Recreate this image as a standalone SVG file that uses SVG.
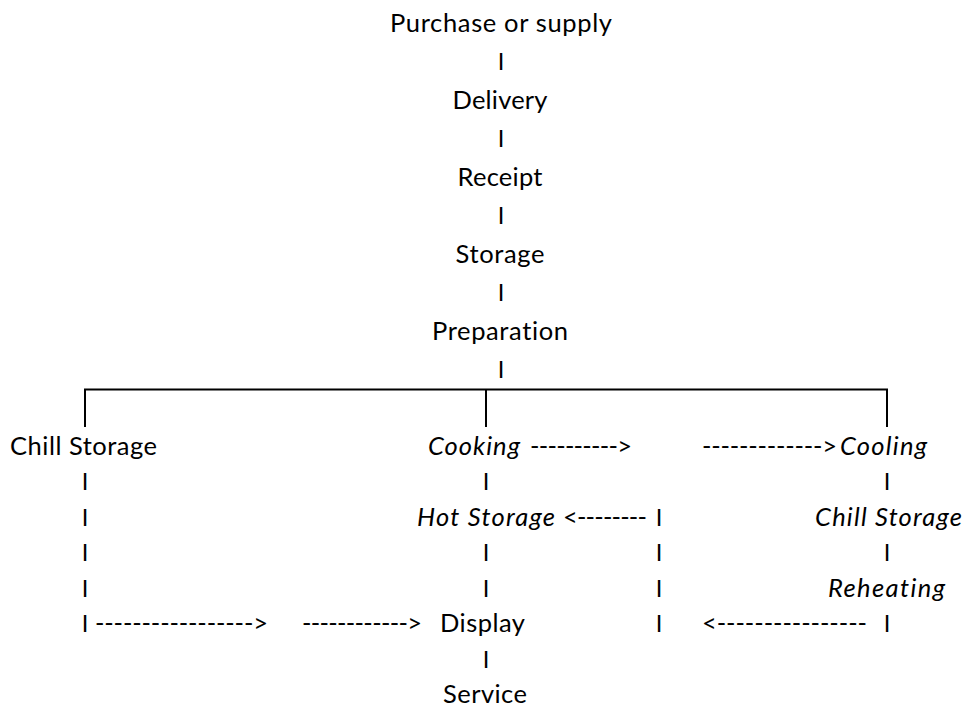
<svg xmlns="http://www.w3.org/2000/svg" width="965" height="709" viewBox="0 0 965 709">
<style>
text{font-family:Lato,"Open Sans","Liberation Sans",sans-serif;font-size:25.5px;fill:#000;font-variant-ligatures:none}
.c{text-anchor:middle}
.i{font-style:italic}
.ln{stroke:#000;stroke-width:2;fill:none}
.b{font-size:23.5px}
</style>
<rect width="965" height="709" fill="#fff"/>
<g id="n-purchase"><text class="c" x="501" y="31.5" textLength="222" lengthAdjust="spacing">Purchase or supply</text></g>
<g id="n-delivery"><text class="c" x="500" y="108.5" textLength="95" lengthAdjust="spacing">Delivery</text></g>
<g id="n-receipt"><text class="c" x="500" y="185.5" textLength="85" lengthAdjust="spacing">Receipt</text></g>
<g id="n-storage"><text class="c" x="500" y="262.5" textLength="89" lengthAdjust="spacing">Storage</text></g>
<g id="n-preparation"><text class="c" x="500" y="339.5" textLength="136" lengthAdjust="spacing">Preparation</text></g>
<g id="n-chill-left"><text x="10" y="454.5" textLength="147" lengthAdjust="spacing">Chill Storage</text></g>
<g id="n-cooking"><text class="i" x="428" y="454.5" textLength="92" lengthAdjust="spacing">Cooking</text></g>
<g id="n-cooling"><text class="i" x="840" y="454.5" textLength="87" lengthAdjust="spacing">Cooling</text></g>
<g id="n-hot-storage"><text class="i" x="417" y="525.5" textLength="138" lengthAdjust="spacing">Hot Storage</text></g>
<g id="n-chill-right"><text class="i" x="815" y="525.5" textLength="147" lengthAdjust="spacing">Chill Storage</text></g>
<g id="n-reheating"><text class="i" x="828" y="596.5" textLength="117" lengthAdjust="spacing">Reheating</text></g>
<g id="n-display"><text x="440" y="632" textLength="85" lengthAdjust="spacing">Display</text></g>
<g id="n-service"><text x="443" y="703" textLength="84" lengthAdjust="spacing">Service</text></g>
<g id="connectors">
<path class="ln" d="M85,427V389.5H887V427M486,389.5V427"/>
<text class="c b" x="501" y="70">I</text>
<text class="c b" x="501" y="147">I</text>
<text class="c b" x="501" y="224">I</text>
<text class="c b" x="501" y="301">I</text>
<text class="c b" x="501" y="378">I</text>
<text class="c b" x="85" y="490">I</text>
<text class="c b" x="85" y="525.5">I</text>
<text class="c b" x="85" y="561">I</text>
<text class="c b" x="85" y="596.5">I</text>
<text class="c b" x="85" y="632">I</text>
<text x="95" y="632" textLength="173" lengthAdjust="spacing">-----------------&gt;</text>
<text x="302" y="632" textLength="120" lengthAdjust="spacing">------------&gt;</text>
<text x="530" y="454.5" textLength="102" lengthAdjust="spacing">----------&gt;</text>
<text x="702" y="454.5" textLength="135" lengthAdjust="spacing">-------------&gt;</text>
<text class="c b" x="486" y="490">I</text>
<text x="563" y="525.5" textLength="84" lengthAdjust="spacing">&lt;--------</text>
<text class="c b" x="659" y="525.5">I</text>
<text class="c b" x="486" y="561">I</text>
<text class="c b" x="659" y="561">I</text>
<text class="c b" x="486" y="596.5">I</text>
<text class="c b" x="659" y="596.5">I</text>
<text class="c b" x="659" y="632">I</text>
<text class="c b" x="486" y="667.5">I</text>
<text class="c b" x="887" y="490">I</text>
<text class="c b" x="887" y="561">I</text>
<text x="702" y="632" textLength="165" lengthAdjust="spacing">&lt;----------------</text>
<text class="c b" x="887" y="632">I</text>
</g>
</svg>
